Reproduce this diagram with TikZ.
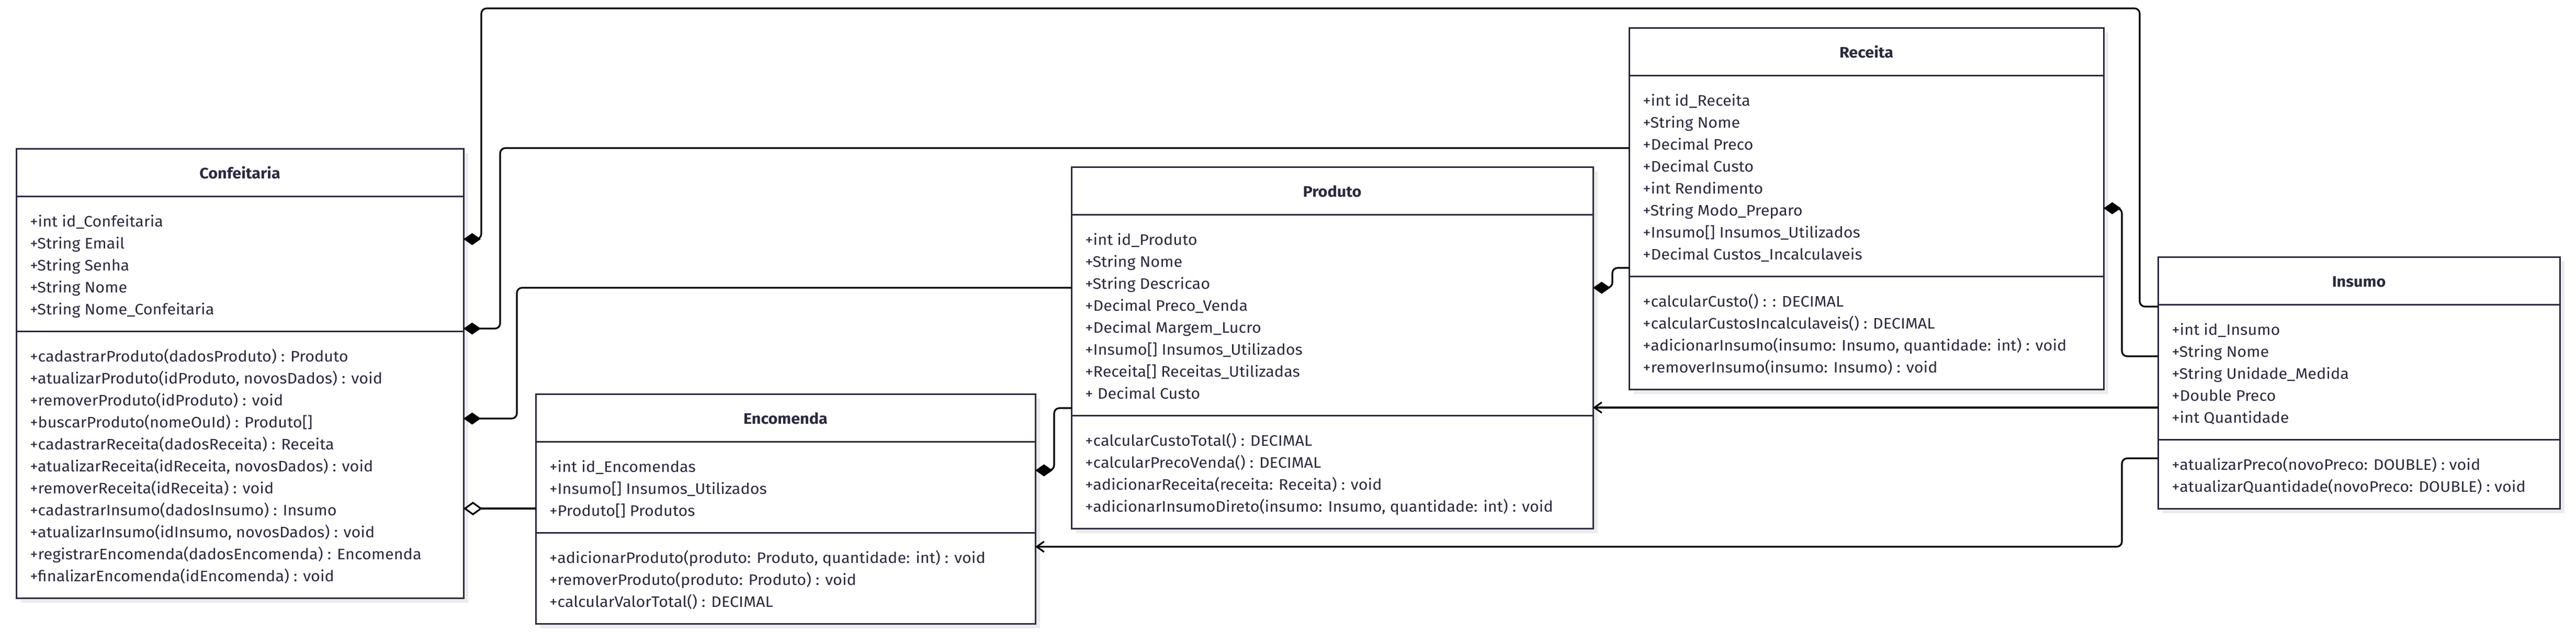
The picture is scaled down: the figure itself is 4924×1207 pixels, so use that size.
\documentclass[tikz,border=0pt]{standalone}
\usepackage{fontspec}
\setmainfont{Fira Sans}[FakeStretch=1.055]
\usetikzlibrary{arrows.meta,calc}

\definecolor{umlnavy}{HTML}{2A2A40}
\definecolor{umlshadow}{HTML}{EBEBEB}

%class box: name, title, left, top, width, no. of attributes, no. of methods, attributes, methods
\newcommand{\umlclass}[9]{%
	\pgfmathsetmacro{\clshdiv}{#4+91}				%header divider
	\pgfmathsetmacro{\clsadiv}{\clshdiv+48+42*#6}	%attribute divider
	\pgfmathsetmacro{\clsbot}{\clsadiv+48+42*#7}
	\pgfmathsetmacro{\clsheight}{\clsbot-#4}
	\fill[umlshadow] (#3+9,#4+9) rectangle ++(#5,\clsheight);
	\node[classbox, minimum width=#5*0.5pt, minimum height=\clsheight*0.5pt] (#1) at (#3,#4) {};
	\node[classtitle] (#1-title) at (#3+#5/2,#4+57) {#2};
	\draw[classline] (#3,\clshdiv) -- (#3+#5,\clshdiv);
	\draw[classline] (#3,\clsadiv) -- (#3+#5,\clsadiv);
	\foreach \itemtxt [count=\i] in {#8}
		\node[classitem] (#1-a\i) at (#3+26,\clshdiv+16+42*\i) {\itemtxt};
	\foreach \itemtxt [count=\i] in {#9}
		\node[classitem] (#1-m\i) at (#3+26,\clsadiv+16+42*\i) {\itemtxt};
}

\begin{document}
\begin{tikzpicture}[x=0.5pt,y=-0.5pt,
	classbox/.style={draw=umlnavy, line width=1.5pt, fill=white, anchor=north west, inner sep=0pt, outer sep=0pt},
	classline/.style={umlnavy, line width=1.5pt},
	classtitle/.style={anchor=base, inner sep=0pt, text=umlnavy, font=\bfseries\fontsize{14.5}{17}\selectfont},
	classitem/.style={anchor=base west, inner sep=0pt, text=umlnavy, font=\fontsize{14.5}{17}\selectfont},
	conn/.style={black, line width=1.6pt, rounded corners=5pt},
	compstart/.style={{Diamond[length=16.5pt,width=11.5pt]}-},
	compend/.style={-{Diamond[length=16.5pt,width=11.5pt]}},
	aggrstart/.style={{Diamond[open,length=18pt,width=13pt,fill=white]}-},
	assocend/.style={-{Straight Barb[length=7pt,width=10pt]}}]

	\useasboundingbox (0,0) rectangle (4924,1207);

	%classes
	\umlclass{conf}{Confeitaria}{31}{284}{855}{5}{11}
		{+int id\_Confeitaria, +String Email, +String Senha, +String Nome, +String Nome\_Confeitaria}
		{+cadastrarProduto(dadosProduto) : Produto, {+atualizarProduto(idProduto, novosDados) : void}, +removerProduto(idProduto) : void, +buscarProduto(nomeOuId) : Produto[], +cadastrarReceita(dadosReceita) : Receita, {+atualizarReceita(idReceita, novosDados) : void}, +removerReceita(idReceita) : void, +cadastrarInsumo(dadosInsumo) : Insumo, {+atualizarInsumo(idInsumo, novosDados) : void}, +registrarEncomenda(dadosEncomenda) : Encomenda, +finalizarEncomenda(idEncomenda) : void}
	\umlclass{enc}{Encomenda}{1024}{753}{955}{3}{3}
		{+int id\_Encomendas, +Insumo[] Insumos\_Utilizados, +Produto[] Produtos}
		{{+adicionarProduto(produto: Produto, quantidade: int) : void}, +removerProduto(produto: Produto) : void, +calcularValorTotal() : DECIMAL}
	\umlclass{prod}{Produto}{2048}{319}{997}{8}{4}
		{+int id\_Produto, +String Nome, +String Descricao, +Decimal Preco\_Venda, +Decimal Margem\_Lucro, +Insumo[] Insumos\_Utilizados, +Receita[] Receitas\_Utilizadas, + Decimal Custo}
		{+calcularCustoTotal() : DECIMAL, +calcularPrecoVenda() : DECIMAL, +adicionarReceita(receita: Receita) : void, {+adicionarInsumoDireto(insumo: Insumo, quantidade: int) : void}}
	\umlclass{rec}{Receita}{3114}{53}{907}{8}{4}
		{+int id\_Receita, +String Nome, +Decimal Preco, +Decimal Custo, +int Rendimento, +String Modo\_Preparo, +Insumo[] Insumos\_Utilizados, +Decimal Custos\_Incalculaveis}
		{+calcularCusto() : : DECIMAL, +calcularCustosIncalculaveis() : DECIMAL, {+adicionarInsumo(insumo: Insumo, quantidade: int) : void}, +removerInsumo(insumo: Insumo) : void}
	\umlclass{ins}{Insumo}{4125}{491}{768}{5}{2}
		{+int id\_Insumo, +String Nome, +String Unidade\_Medida, +Double Preco, +int Quantidade}
		{+atualizarPreco(novoPreco: DOUBLE) : void, +atualizarQuantidade(novoPreco: DOUBLE) : void}

	%connections
	\draw[conn, compstart] (conf.east |- 0,457) -- (920,457) -- (920,16) -- (4090,16) -- (4090,586) -- (ins.west |- 0,586);
	\draw[conn, compstart] (conf.east |- 0,628) -- (956,628) -- (956,283) -- (rec.west |- 0,283);
	\draw[conn, compstart] (conf.east |- 0,800) -- (988,800) -- (988,550) -- (prod.west |- 0,550);
	\draw[conn, aggrstart] (conf.east |- 0,972) -- (enc.west |- 0,972);
	\draw[conn, compend] (prod.west |- 0,780) -- (2015,780) -- (2015,899) [sharp corners] -- (enc.east |- 0,899);
	\draw[conn, compend] (rec.west |- 0,512) -- (3082,512) -- (3082,550) [sharp corners] -- (prod.east |- 0,550);
	\draw[conn, compend] (ins.west |- 0,681) -- (4056,681) -- (4056,398) [sharp corners] -- (rec.east |- 0,398);
	\draw[conn, assocend] (ins.west |- 0,779) -- (prod.east |- 0,779);
	\draw[conn, assocend] (ins.west |- 0,876) -- (4056,876) -- (4056,1045) -- (enc.east |- 0,1045);

\end{tikzpicture}
\end{document}
